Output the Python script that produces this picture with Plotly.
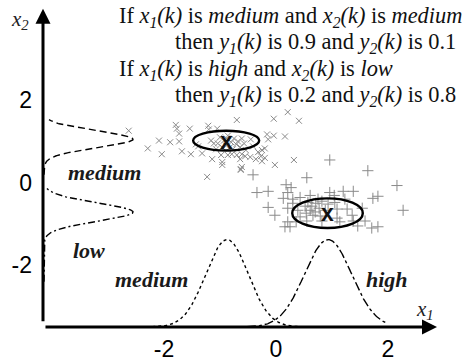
import numpy as np
import plotly.graph_objects as go

# ---- sample data: cluster "medium/medium" (x markers) ----
medium_x1 = [-2.63, -2.29, -2.09, -2.04, -1.89, -1.79, -1.77, -1.73, -1.73, -1.68,
             -1.54, -1.52, -1.43, -1.39, -1.32, -1.21, -1.20, -1.05, -1.16, -1.11,
             -1.14, -0.98, -0.96, -0.96, -0.70, -0.86, -0.79, -0.70, -0.63, -1.23,
             -0.04, 0.21, 0.41, -0.16, -0.14, -0.04, 0.16, -0.61, -0.45, -0.20,
             -0.25, -0.32, -0.61, -0.55, -0.46, -0.36, -0.27, -0.20, -0.25, -0.64,
             -0.61, -0.63, -0.02, 0.32, -1.00, -0.93, -0.86, -0.80, -0.75, -0.71,
             -0.89, -0.82, -0.68, -1.04, -0.64, -0.77, -0.57, -0.88, -0.96, -0.54,
             -1.07, -0.41]
medium_x2 = [1.26, 0.83, 1.02, 0.69, 0.98, 1.40, 1.31, 1.19, 1.00, 0.76,
             1.31, 0.69, 0.93, 0.88, 0.71, 1.38, 1.29, 1.31, 1.02, 0.95,
             0.57, 0.67, 0.50, 0.43, 1.52, 0.67, 0.69, 0.67, 0.33, 0.14,
             1.55, 1.71, 1.50, 1.17, 1.05, 1.14, 1.12, 1.07, 1.05, 0.83,
             0.79, 0.74, 0.69, 0.64, 0.62, 0.57, 0.64, 0.60, 0.52, 0.57,
             0.38, 0.31, 0.43, 0.55, 1.10, 1.02, 1.14, 0.98, 1.07, 0.93,
             0.90, 0.86, 1.00, 0.95, 0.86, 0.81, 0.95, 1.07, 0.86, 0.79,
             0.81, 0.88]

# ---- sample data: cluster "high/low" (+ markers) ----
high_x1 = [-0.41, 0.55, 1.64, 2.16, -0.34, -0.14, 0.18, 0.27, 0.13, 0.21,
           0.30, 0.43, 0.61, 0.96, 1.04, 1.20, 1.38, 1.73, 1.82, 2.27,
           -0.14, -0.02, 0.21, 0.30, 1.09, 1.27, 0.21, 0.16, 0.25, 0.43,
           0.55, 1.09, 1.14, 1.38, 1.46, 1.59, 1.82, 1.71, 1.54, 0.96,
           0.57, 0.64, 0.71, 0.77, 0.61, 0.82, 0.70, 0.88, 0.52, 0.75,
           0.66, 0.93, 0.79, 0.54, 0.39, 0.82, 1.05, 1.23, 0.36, 1.36]
high_x2 = [0.19, 0.12, 0.29, -0.07, -0.24, -0.21, -0.05, -0.12, -0.38, -0.24,
           -0.40, -0.36, -0.31, -0.24, -0.31, -0.21, -0.21, -0.38, -0.33, -0.67,
           -0.60, -0.79, -0.62, -0.50, -0.64, -0.64, -0.95, -1.07, -1.07, -0.83,
           -0.93, -0.86, -0.95, -0.93, -1.05, -0.93, -1.07, -1.10, -0.62, 0.55,
           -0.48, -0.57, -0.50, -0.62, -0.67, -0.45, -0.71, -0.67, -0.57, -0.40,
           -0.79, -0.52, -0.81, -0.74, -0.67, -0.93, -0.48, -0.40, -0.95, -0.79]

# ---- cluster centres and ellipse half-axes ----
centre_x1 = [-0.89, 0.92]
centre_x2 = [1.02, -0.74]
half_x1 = [0.59, 0.63]
half_x2 = [0.24, 0.36]

# ---- gaussian membership functions (centre, sigma, domain) ----
mf_x1_medium = dict(c=-0.875, s=0.38, lo=-2.21, hi=0.73)
mf_x1_high = dict(c=0.93, s=0.42, lo=-0.52, hi=1.98)
mf_x2_medium = dict(c=1.05, s=0.20, lo=0.19, hi=1.53)
mf_x2_low = dict(c=-0.714, s=0.22, lo=-2.40, hi=-0.14)

tick_vals = [-2, 0, 2]
tick_text = ["-2", "0", "2"]

# axis geometry
X_MIN, X_MAX = -4.161, 3.393
Y_MIN, Y_MAX = -3.5, 4.429
X1_BASE = -3.5      # x1 axis sits here; x1 membership curves rise from it
X2_BASE = -4.143    # x2 axis sits here; x2 membership curves extend right of it
MF_HEIGHT_Y = 2.12  # membership 1.0 drawn as this many x2 units
MF_HEIGHT_X = 1.59  # membership 1.0 drawn as this many x1 units

SERIF = "Liberation Serif"
SANS = "Arial"
GREY = "#8a8a8a"


def gauss(mf, n=300):
    t = np.linspace(mf["lo"], mf["hi"], n)
    return t, np.exp(-0.5 * ((t - mf["c"]) / mf["s"]) ** 2)


fig = go.Figure()

# membership functions on the x1 axis
for mf, dash in [(mf_x1_medium, "dot"), (mf_x1_high, "dashdot")]:
    t, mu = gauss(mf)
    fig.add_trace(go.Scatter(x=t, y=X1_BASE + MF_HEIGHT_Y * mu, mode="lines",
                             line=dict(color="black", width=1.4, dash=dash),
                             hoverinfo="skip"))

# membership functions on the x2 axis
for mf, dash in [(mf_x2_medium, "7px,4px"), (mf_x2_low, "7px,3px,2px,3px")]:
    t, mu = gauss(mf)
    fig.add_trace(go.Scatter(x=X2_BASE + MF_HEIGHT_X * mu, y=t, mode="lines",
                             line=dict(color="black", width=1.4, dash=dash),
                             hoverinfo="skip"))

# data samples
fig.add_trace(go.Scatter(x=medium_x1, y=medium_x2, mode="markers",
                         marker=dict(symbol="x-thin-open", size=6, color=GREY,
                                     line=dict(color=GREY, width=1)),
                         hoverinfo="skip"))
fig.add_trace(go.Scatter(x=high_x1, y=high_x2, mode="markers",
                         marker=dict(symbol="cross-thin-open", size=8, color=GREY,
                                     line=dict(color=GREY, width=1)),
                         hoverinfo="skip"))

# cluster ellipses
for cx, cy, ax_, ay_ in zip(centre_x1, centre_x2, half_x1, half_x2):
    fig.add_shape(type="circle", xref="x", yref="y",
                  x0=cx - ax_, x1=cx + ax_, y0=cy - ay_, y1=cy + ay_,
                  line=dict(color="black", width=2.4))

# cluster centres
for cx, cy in zip(centre_x1, centre_x2):
    fig.add_annotation(x=cx, y=cy, xref="x", yref="y", text="<b>x</b>",
                       xanchor="center", yanchor="middle", showarrow=False,
                       font=dict(family=SANS, size=23, color="#111"))

# axes drawn as arrows (paper coords of the plot area)
fig.add_annotation(x=0, y=0.973, xref="paper", yref="paper", ax=0, ay=314,
                   axref="pixel", ayref="pixel", text="", showarrow=True,
                   arrowhead=2, arrowsize=1, arrowwidth=3, arrowcolor="black")
fig.add_annotation(x=0.9314, y=0, xref="paper", yref="paper", ax=-393, ay=0,
                   axref="pixel", ayref="pixel", text="", showarrow=True,
                   arrowhead=2, arrowsize=1, arrowwidth=3, arrowcolor="black")


def paper(px, py):
    return (px - 43) / 423, (333 - py) / 333


rules = [
    (117, 17, "If <i>x<sub>1</sub>(k)</i> is <i>medium</i> and <i>x<sub>2</sub>(k)</i> is <i>medium</i>"),
    (173, 44, "then <i>y<sub>1</sub>(k)</i> is 0.9 and <i>y<sub>2</sub>(k)</i> is 0.1"),
    (117, 71, "If <i>x<sub>1</sub>(k)</i> is <i>high</i> and <i>x<sub>2</sub>(k)</i> is <i>low</i>"),
    (173, 98, "then <i>y<sub>1</sub>(k)</i> is 0.2 and <i>y<sub>2</sub>(k)</i> is 0.8"),
]
for px, py, txt in rules:
    xp, yp = paper(px, py)
    fig.add_annotation(x=xp, y=yp, xref="paper", yref="paper", text=txt,
                       xanchor="left", yanchor="middle", showarrow=False,
                       font=dict(family=SERIF, size=22.4, color="#111"))

mf_labels = [(104, 176, "medium"), (89, 255, "low"), (151, 285, "medium"),
             (387, 285, "high")]
for px, py, txt in mf_labels:
    xp, yp = paper(px, py)
    fig.add_annotation(x=xp, y=yp, xref="paper", yref="paper",
                       text="<b><i>" + txt + "</i></b>", showarrow=False,
                       xanchor="center", yanchor="middle",
                       font=dict(family=SERIF, size=22, color="#1a1a1a"))

for px, py, txt in [(20, 20, "<i>x<sub>2</sub></i>"), (425, 316, "<i>x<sub>1</sub></i>")]:
    xp, yp = paper(px, py)
    fig.add_annotation(x=xp, y=yp, xref="paper", yref="paper", text=txt,
                       xanchor="center", yanchor="middle", showarrow=False,
                       font=dict(family=SERIF, size=21, color="#222"))

fig.update_layout(
    width=466, height=362,
    margin=dict(l=43, r=0, t=0, b=29),
    paper_bgcolor="white", plot_bgcolor="white",
    showlegend=False,
    xaxis=dict(range=[X_MIN, X_MAX], showgrid=False, zeroline=False,
               showline=False, tickvals=tick_vals, ticktext=tick_text,
               ticks="", ticklabelstandoff=6,
               tickfont=dict(family=SANS, size=23, color="black")),
    yaxis=dict(range=[Y_MIN, Y_MAX], showgrid=False, zeroline=False,
               showline=False, tickvals=tick_vals, ticktext=tick_text,
               ticks="", ticklabelstandoff=10,
               tickfont=dict(family=SANS, size=23, color="black")),
)

fig.write_html("out.html")
